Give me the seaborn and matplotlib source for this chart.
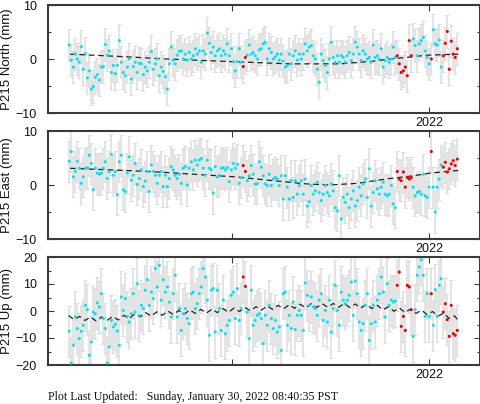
import numpy as np
import pandas as pd
import matplotlib
matplotlib.use("Agg")
import matplotlib.pyplot as plt
from matplotlib.ticker import FixedLocator, FixedFormatter, MultipleLocator
import seaborn as sns

# --- epochs (decimal year), shared by N / E / U ---
epochs = [
    2020.174, 2020.184, 2020.195, 2020.205, 2020.215, 2020.225, 2020.235, 2020.245, 2020.256, 2020.266,
    2020.276, 2020.286, 2020.296, 2020.306, 2020.316, 2020.327, 2020.337, 2020.347, 2020.357, 2020.367,
    2020.377, 2020.388, 2020.398, 2020.408, 2020.418, 2020.428, 2020.438, 2020.448, 2020.459, 2020.469,
    2020.479, 2020.489, 2020.499, 2020.509, 2020.519, 2020.530, 2020.540, 2020.550, 2020.560, 2020.570,
    2020.580, 2020.591, 2020.601, 2020.611, 2020.621, 2020.631, 2020.641, 2020.651, 2020.662, 2020.672,
    2020.682, 2020.692, 2020.702, 2020.712, 2020.722, 2020.733, 2020.743, 2020.753, 2020.763, 2020.773,
    2020.783, 2020.794, 2020.804, 2020.814, 2020.824, 2020.834, 2020.844, 2020.854, 2020.865, 2020.875,
    2020.885, 2020.895, 2020.905, 2020.915, 2020.926, 2020.936, 2020.946, 2020.956, 2020.966, 2020.976,
    2020.986, 2020.997, 2021.007, 2021.017, 2021.027, 2021.037, 2021.047, 2021.057, 2021.068, 2021.078,
    2021.088, 2021.098, 2021.108, 2021.118, 2021.129, 2021.139, 2021.149, 2021.159, 2021.169, 2021.179,
    2021.189, 2021.200, 2021.210, 2021.220, 2021.230, 2021.240, 2021.250, 2021.260, 2021.271, 2021.281,
    2021.291, 2021.301, 2021.311, 2021.321, 2021.332, 2021.342, 2021.352, 2021.362, 2021.372, 2021.382,
    2021.392, 2021.403, 2021.413, 2021.423, 2021.433, 2021.443, 2021.453, 2021.463, 2021.474, 2021.484,
    2021.494, 2021.504, 2021.514, 2021.524, 2021.535, 2021.545, 2021.555, 2021.565, 2021.575, 2021.585,
    2021.595, 2021.606, 2021.616, 2021.626, 2021.636, 2021.646, 2021.656, 2021.666, 2021.677, 2021.687,
    2021.697, 2021.707, 2021.717, 2021.727, 2021.738, 2021.748, 2021.758, 2021.768, 2021.778, 2021.788,
    2021.798, 2021.809, 2021.819, 2021.829, 2021.839, 2021.849, 2021.859, 2021.870, 2021.880, 2021.890,
    2021.900, 2021.910, 2021.920, 2021.930, 2021.941, 2021.951, 2021.961, 2021.971, 2021.981, 2021.991,
    2022.001, 2022.012, 2022.022, 2022.032, 2022.042, 2022.052, 2022.062, 2022.073, 2022.083, 2022.093,
    2022.103, 2022.113, 2022.123, 2022.133, 2022.144,
]

# epochs drawn in red (rapid solutions)
rapid_idx = [87, 88, 164, 165, 166, 167, 168, 169, 170, 171, 181,
             187, 188, 189, 190, 191, 192, 193, 194]

north = [
    2.6, -0.2, -1.5, 0.9, 0.0, -0.6, 2.3, -1.9, 1.0, -3.5,
    -2.2, -5.6, -5.1, -3.4, -2.9, -3.9, -1.5, -1.4, 2.7, 0.7,
    1.5, -2.5, -1.2, -2.7, -1.2, 3.4, -0.6, -2.5, -3.1, -1.5,
    0.0, -3.7, -1.4, -0.6, -2.5, -0.8, -0.9, -2.9, -1.5, -2.2,
    -0.6, 1.4, -1.9, -0.9, 0.0, -3.1, -1.5, -2.3, -3.3, -5.6,
    -0.9, 2.2, -0.2, -0.9, 0.7, 1.4, 1.5, 0.0, 0.9, -0.2,
    1.2, 0.0, 0.6, 1.9, 0.9, 1.5, -0.6, 1.5, 0.9, 4.8,
    2.9, 1.2, 2.2, 0.6, 1.5, 1.9, 0.6, 1.5, 0.9, 2.8,
    0.6, 1.9, -0.5, -2.2, -0.5, 1.9,
    -0.6, -1.4, 0.3, 0.7, 2.6, 0.9, 1.2, 0.6, 0.0, 1.7,
    1.9, 2.8, 3.1, 0.0, 1.9, 1.2, 0.0, 0.4, 0.9, -0.2,
    0.9, -0.4, -1.5, -1.2, 0.9, -0.9, 0.6, 1.5, -0.2, 0.9,
    0.0, 0.9, 2.8, 1.5, 2.2, 2.5, 0.6, 0.0, -1.9, -4.3,
    0.9, -0.3, -1.2, -2.5, 0.0, 3.1, 0.3, -0.6, 0.6, -0.6,
    0.6, 0.3, -0.6, 0.6, 1.2, -0.3, 0.9, 3.1, 2.2, 0.9,
    -0.3, 1.5, 0.9, 0.0, 0.3, -0.6, 2.6, 0.3, 0.6, 0.0,
    1.9, -1.5, -0.3, 0.3, -0.6, 0.0, 2.2, 0.3, 0.6, -0.9,
    -2.5, -2.2, -1.5, -3.1, 3.4, 0.6, 3.7, 2.5, 0.6, 2.8,
    3.4, 4.0, 1.5, 0.3, -0.9, 0.0, 5.4, 2.8, 2.6, 3.5,
    -1.5, 0.6, 2.9, 5.1, -1.9, 3.3, 0.9, 0.3, 1.9,
]

east = [
    4.4, 6.2, 1.5, 2.5, 4.4, 3.1, 0.3, 1.5, 3.1, 3.2,
    5.5, 4.0, -0.9, 3.1, 2.2, 2.0, 2.2, 3.1, 4.3, 1.2,
    2.5, 5.7, 1.8, 2.5, -1.8, 4.3, 5.5, -0.9, -1.2, 2.2,
    5.2, 0.9, 1.8, 4.0, 0.1, 1.2, 2.8, -0.3, 0.7, 2.5,
    -1.2, 3.7, 2.5, 1.8, 0.3, 1.8, 2.5, -0.3, 1.8, -0.3,
    1.2, 3.4, 2.8, 1.8, 1.2, 2.0, 0.3, 3.1, 3.4, 0.0,
    3.1, 4.3, 2.8, 4.6, 3.7, 4.6, 4.9, 3.1, 1.8, 4.6,
    3.1, 2.8, -1.5, 3.4, 1.5, 1.8, 3.1, 3.2, 2.8, 3.2,
    0.6, 2.8, 4.0, 3.1, 3.8, 0.3,
    1.4, 3.6, 2.5, 0.8, 1.7, 3.6, 2.0, 0.2, 0.2, 4.3,
    3.3, 1.7, 0.2, -0.1, 2.0, -0.1, 1.1, 1.4, 1.1, -0.1,
    1.7, -2.6, 1.7, -0.4, -2.6, 0.8, -2.3, 0.8, -1.7, -0.1,
    0.8, -1.7, 1.1, -3.9, -3.1, -0.1, -1.7, -1.1, 0.5, -1.4,
    -2.9, -1.7, -0.1, -1.4, -2.0, 0.2, -1.1, -4.2, -4.8, 1.7,
    -6.3, -2.3, -3.2, -1.7, -4.2, -2.6, -1.1, -3.9, -2.9, -0.4,
    -2.0, 0.2, 1.1, -2.3, 3.0, -3.9, -1.4, 0.8, -0.7, -1.7,
    -0.4, 0.5, -1.7, -2.0, -1.7, -0.1, -3.5, -4.2, 2.5, 1.1,
    0.8, 2.4, -0.4, 1.4, 1.1, 1.4, -0.4, -2.0, -1.4, -1.2,
    -1.7, 2.0, -2.0, -2.3, -0.4, 6.2, -0.4, -5.0, -0.4, 1.1,
    3.7, 3.3, 4.2, 2.4, 3.0, 3.9, 4.5, 3.6, 4.8,
]

up = [
    -7.5, -19.3, -12.7, -2.2, -6.5, -10.2, -7.5, -5.3, 2.1, 0.5,
    -16.4, -11.5, -0.4, -1.0, 3.0, 1.5, 6.4, -2.8, -6.5, -19.3,
    -13.3, -3.5, -5.9, -4.9, -7.4, -12.7, 5.2, 0.2, 4.6, -2.0,
    -4.1, -1.0, 6.4, -0.4, 10.1, -1.6, 2.1, 0.9, 7.7, 11.6,
    2.1, 7.0, 4.6, 15.7, 8.9, 16.9, 4.0, 11.6, 7.0, 8.9,
    3.3, -2.2, 6.4, 13.2, -2.2, 0.9, -7.2, -1.0, 0.9, -2.8,
    -4.7, 6.4, 7.0, 0.9, 2.7, 6.4, 8.9, 15.7, 12.6, 4.0,
    -9.0, 7.7, 8.3, -7.8, 7.7, 0.9, -7.2, 4.0, -8.4, -5.3,
    -3.5, 5.8, 7.0, -2.8, 8.3, -3.5,
    0.9, 12.6, 9.1, -0.4, -10.2, 7.7, -5.3, -3.5, -1.6, -1.0,
    -2.8, -12.1, -1.6, -5.3, 2.1, -2.8, -6.5, -3.5, -7.8, -5.9,
    -14.6, 6.4, 7.0, -5.3, -1.6, -6.5, 3.3, -6.9, -1.6, 0.2,
    -1.6, -7.2, 10.4, 5.8, 2.1, 5.2, 1.5, 0.9, -1.6, 4.0,
    6.4, -3.5, 0.2, -4.1, 4.0, -7.8, 0.9, 9.5, 0.2, -5.3,
    7.0, 4.0, 2.7, 4.0, 5.8, 10.7, -1.6, 11.1, 6.4, -4.1,
    -7.2, -4.7, 2.1, 6.4, -10.9, -4.7, 2.1, -4.1, 4.0, 6.4,
    12.6, 7.0, -2.2, 10.1, 2.1, 4.0, 3.3, 3.7, 9.5, 14.4,
    -5.7, -2.0, -7.2, 9.5, 8.9, 0.5, -9.4, 0.5, 13.2, 16.3,
    19.0, 13.2, -2.0, 6.4, -2.0, 6.4, -5.3, 7.9, -2.0, 9.5,
    12.0, -0.4, 2.7, -3.2, -9.4, 2.1, -8.4, -9.0, -7.2,
]

# one-sigma error (mm) per component
sigma = [3.0, 3.8, 9.5]

# model curves
north_model_t = [2020.178, 2020.415, 2020.668, 2021.007, 2021.294, 2021.548,
                 2021.717, 2021.802, 2021.887, 2021.988, 2022.149]
north_model = [0.9, 0.5, 0.0, -0.5, -0.9, -0.9, -0.4, 0.0, 0.3, 0.7, 0.9]

east_model_t = [2020.178, 2020.584, 2021.020, 2021.210, 2021.379, 2021.497,
                2021.633, 2021.802, 2021.920, 2022.005, 2022.149]
east_model = [3.1, 2.5, 1.5, 0.8, 0.2, 0.0, 0.3, 1.2, 1.7, 2.2, 2.7]

up_model_t = [
    2020.170, 2020.198, 2020.226, 2020.254, 2020.282, 2020.310, 2020.338, 2020.366, 2020.394, 2020.422,
    2020.450, 2020.478, 2020.506, 2020.534, 2020.562, 2020.590, 2020.618, 2020.646, 2020.674, 2020.702,
    2020.730, 2020.758, 2020.786, 2020.814, 2020.842, 2020.870, 2020.898, 2020.926, 2020.954, 2020.982,
    2021.010, 2021.038, 2021.066, 2021.094, 2021.122, 2021.150, 2021.178, 2021.206, 2021.234, 2021.262,
    2021.290, 2021.318, 2021.346, 2021.374, 2021.402, 2021.430, 2021.458, 2021.486, 2021.514, 2021.542,
    2021.570, 2021.598, 2021.626, 2021.654, 2021.682, 2021.710, 2021.738, 2021.766, 2021.794, 2021.822,
    2021.850, 2021.878, 2021.906, 2021.934, 2021.962, 2021.990, 2022.018, 2022.046, 2022.074, 2022.102,
    2022.130, 2022.150,
]
up_model = [
    -1.7, -3.2, -2.0, -3.5, -2.2, -3.7, -2.2, -3.5, -2.0, -3.3,
    -1.6, -2.8, -1.1, -2.2, -0.6, -1.9, -0.3, -1.6, 0.0, -1.3,
    0.2, -1.1, 0.4, -0.9, 0.6, -0.8, 0.7, -0.6, 0.9, -0.5,
    1.1, -0.2, 1.3, 0.1, 1.6, 0.3, 1.9, 0.6, 2.1, 0.8,
    2.3, 1.0, 2.5, 1.2, 2.7, 1.3, 2.7, 1.4, 2.8, 1.4,
    2.8, 1.3, 2.6, 1.1, 2.4, 0.9, 2.1, 0.4, 1.6, -0.1,
    1.1, -0.5, 0.7, -0.9, 0.3, -1.3, -0.2, -1.9, -0.8, -2.7,
    -1.8, -3.7,
]

ylabels = ["P215 North (mm)", "P215 East (mm)", "P215 Up (mm)"]
ylims = [(-10, 10), (-10, 10), (-20, 20)]
yticks = [[-10, 0, 10], [-10, 0, 10], [-20, -10, 0, 10, 20]]

CYAN = "#00e5f5"
RED = "#ee0000"
FRAME = "#3a3a3a"

sns.set_style("ticks")
plt.rcParams["font.family"] = ["Liberation Sans", "DejaVu Sans"]
plt.rcParams["axes.unicode_minus"] = True

fig = plt.figure(figsize=(4.81, 4.04), dpi=100)
W, H = 481.0, 404.0
tops = [5, 131, 257]

flag = np.array(["final"] * len(epochs), dtype=object)
flag[rapid_idx] = "rapid"

series = [north, east, up]
models = [(north_model_t, north_model), (east_model_t, east_model), (up_model_t, up_model)]

for i in range(3):
    ax = fig.add_axes([48 / W, 1 - (tops[i] + 108) / H, 432 / W, 108 / H])
    df = pd.DataFrame({"t": epochs, "v": series[i], "flag": flag})

    ax.errorbar(df["t"], df["v"], yerr=sigma[i], fmt="none", ecolor="#dddddd",
                elinewidth=1.1, capsize=1.6, capthick=0.8, zorder=1)

    mdf = pd.DataFrame({"t": models[i][0], "v": models[i][1]})
    sns.lineplot(data=mdf, x="t", y="v", ax=ax, color="#222222", lw=0.9,
                 linestyle=(0, (4.5, 3)), zorder=3, estimator=None, sort=False)

    sns.scatterplot(data=df, x="t", y="v", hue="flag", ax=ax,
                    palette={"final": CYAN, "rapid": RED}, s=5, marker="o",
                    linewidth=0, legend=False, zorder=4)

    ax.set_xlim(2020.066, 2022.259)
    ax.set_ylim(*ylims[i])
    ax.xaxis.set_major_locator(FixedLocator([2021, 2022]))
    ax.xaxis.set_major_formatter(FixedFormatter(["", "2022"]))
    ax.yaxis.set_major_locator(FixedLocator(yticks[i]))
    ax.yaxis.set_minor_locator(MultipleLocator(5))

    ax.set_xlabel("")
    ax.set_ylabel(ylabels[i], fontsize=9.5, color="#111111")
    ax.yaxis.set_label_coords(-0.081, 0.5)

    for sp in ax.spines.values():
        sp.set_visible(True)
        sp.set_linewidth(1.5)
        sp.set_color(FRAME)
    ax.tick_params(axis="both", which="both", direction="in", top=True, right=True,
                   color=FRAME, labelcolor="#111111")
    ax.tick_params(axis="both", which="major", length=4, width=0.8, labelsize=9)
    ax.tick_params(axis="both", which="minor", length=2.5, width=0.8)
    ax.tick_params(axis="y", which="major", pad=8)
    ax.tick_params(axis="x", which="major", pad=3)

fig.text(48 / W, 1 - 397 / H, "Plot Last Updated:   Sunday, January 30, 2022 08:40:35 PST",
         family=["Liberation Serif", "DejaVu Serif"], fontsize=8.6, va="center", ha="left",
         color="#111111")

fig.savefig("out.png", dpi=100)
